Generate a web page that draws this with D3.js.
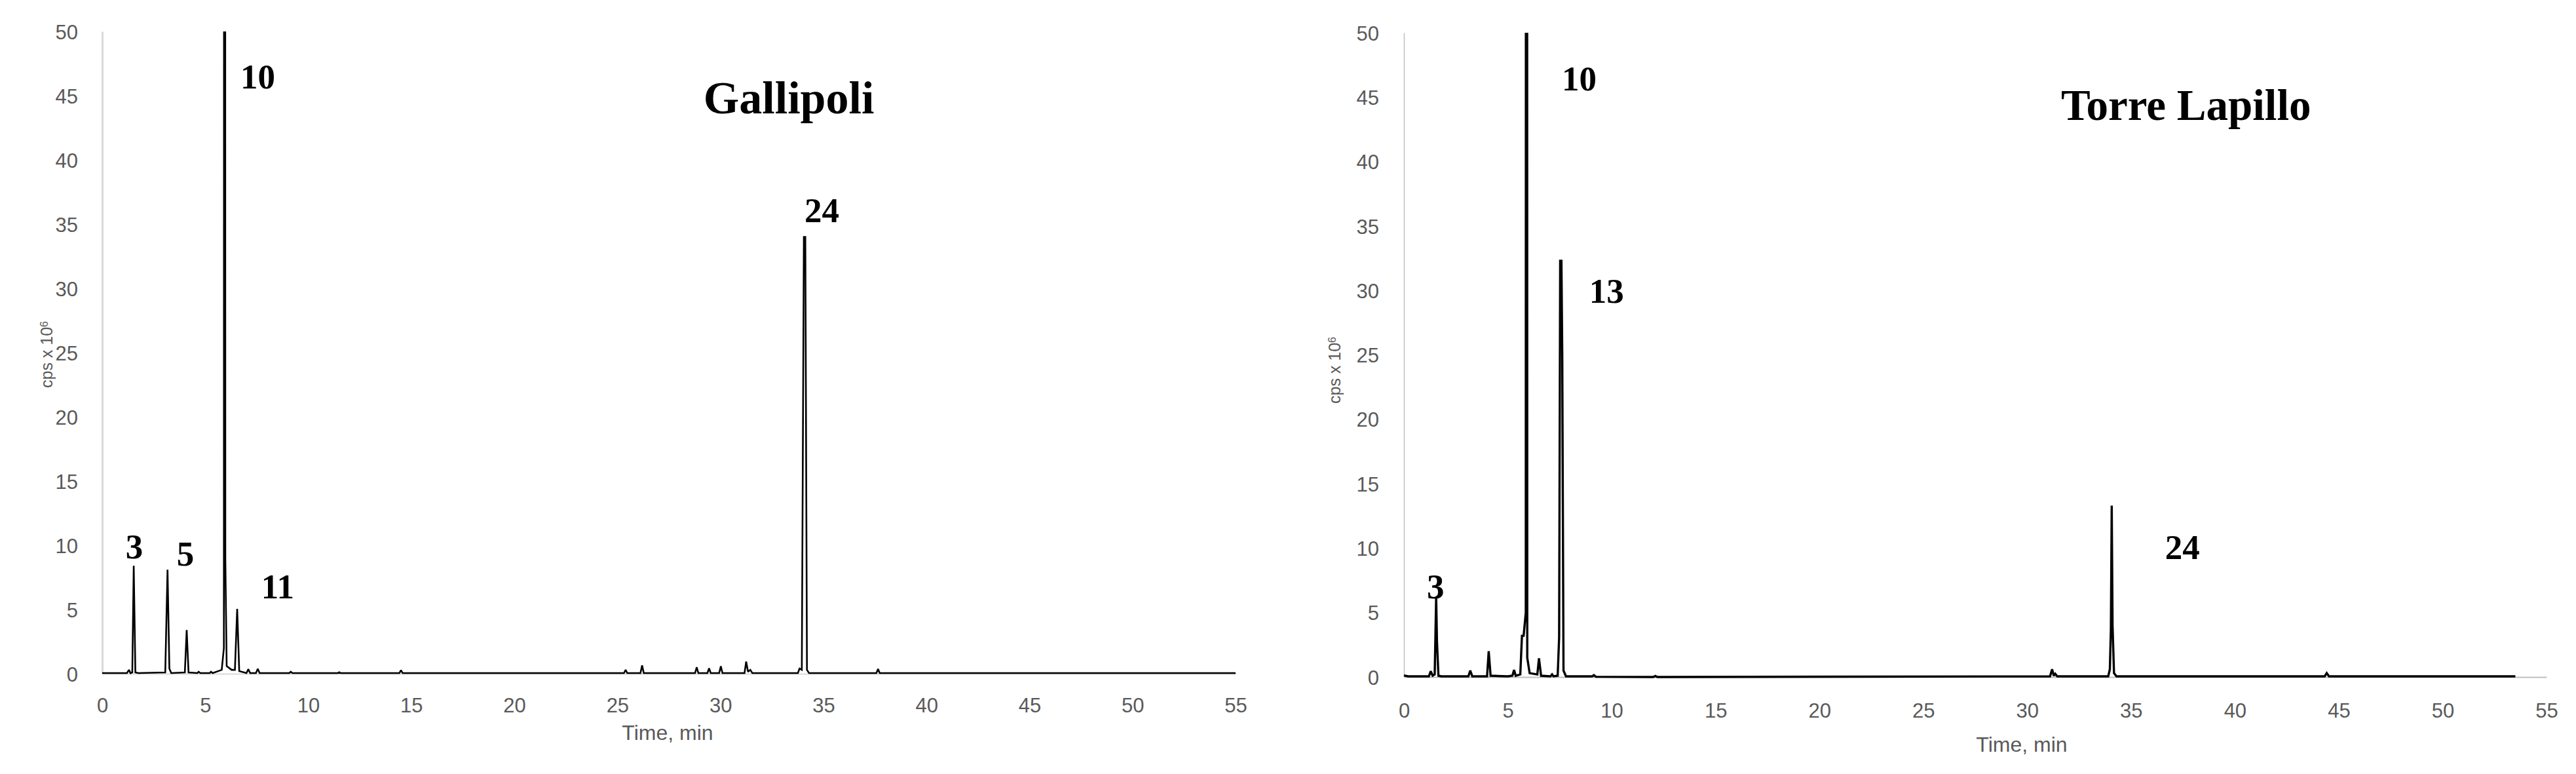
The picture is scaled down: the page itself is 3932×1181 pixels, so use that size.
<!DOCTYPE html>
<html>
<head>
<meta charset="utf-8">
<script src="https://cdn.jsdelivr.net/npm/d3@7"></script>
<style>
  html, body { margin: 0; padding: 0; background: #fff; }
  svg { display: block; }
</style>
</head>
<body>
<svg id="chart" width="3932" height="1181"></svg>
<script>
// ---------------- DATA ----------------
const xTicks = [0, 5, 10, 15, 20, 25, 30, 35, 40, 45, 50, 55];
const yTicks = [0, 5, 10, 15, 20, 25, 30, 35, 40, 45, 50];
const panelTitles = ["Gallipoli", "Torre Lapillo"];
const xAxisTitle = "Time, min";
const yAxisTitle = "cps x 10";
const yAxisTitleSup = "6";

// Gallipoli trace: [time (min), intensity (cps x 10^6)]
const gallipoliTrace = [
  [0, 0.05], [1.2, 0.05], [1.3, 0.3], [1.37, 0.05], [1.46, 0.1], [1.53, 8.4], [1.61, 0.1], [1.75, 0.05],
  [3.06, 0.1], [3.17, 8.1], [3.26, 0.4], [3.35, 0.05], [4.01, 0.1], [4.1, 3.4], [4.19, 0.1],
  [4.62, 0.05], [4.68, 0.15], [4.76, 0.05], [5.22, 0.05], [5.28, 0.15], [5.36, 0.05], [5.8, 0.3],
  [5.905, 2], [5.91, 56], [5.97, 56], [5.975, 9], [6.04, 0.6], [6.28, 0.3], [6.44, 0.3], [6.55, 5.05],
  [6.65, 0.2], [7.0, 0.05], [7.09, 0.35], [7.18, 0.05], [7.46, 0.05], [7.55, 0.38], [7.64, 0.05],
  [9.08, 0.05], [9.15, 0.15], [9.23, 0.05], [11.43, 0.05], [11.5, 0.12], [11.58, 0.05],
  [14.42, 0.05], [14.5, 0.28], [14.58, 0.05], [25.32, 0.05], [25.4, 0.3], [25.48, 0.05],
  [26.12, 0.05], [26.2, 0.65], [26.28, 0.05], [28.77, 0.05], [28.85, 0.5], [28.93, 0.05],
  [29.37, 0.05], [29.45, 0.42], [29.53, 0.05], [29.94, 0.05], [30.02, 0.58], [30.1, 0.05],
  [31.17, 0.05], [31.25, 0.95], [31.34, 0.15], [31.45, 0.3], [31.55, 0.05], [33.76, 0.05],
  [33.84, 0.4], [33.95, 0.3], [34.05, 34], [34.12, 34], [34.2, 0.3], [34.3, 0.05],
  [37.57, 0.05], [37.65, 0.37], [37.73, 0.05], [55, 0.05]
];

// Torre Lapillo trace: [time (min), intensity (cps x 10^6)]
const lapilloTrace = [
  [0, 0.12], [0.2, 0.05], [1.2, 0.05], [1.29, 0.45], [1.38, 0.1], [1.48, 0.2], [1.55, 6.2],
  [1.59, 2.7], [1.66, 0.1], [1.8, 0.05], [3.1, 0.05], [3.19, 0.5], [3.29, 0.05], [4.0, 0.05],
  [4.08, 2.0], [4.17, 0.1], [5.0, 0.05], [5.22, 0.1], [5.3, 0.55], [5.38, 0.1], [5.6, 0.2],
  [5.68, 3.2], [5.76, 3.2], [5.865, 5], [5.87, 56], [5.93, 56], [5.935, 1.5], [6.05, 0.3],
  [6.42, 0.2], [6.5, 1.45], [6.6, 0.1], [7.05, 0.05], [7.13, 0.2], [7.2, 0.05], [7.4, 0.1],
  [7.47, 3.1], [7.52, 32.3], [7.58, 32.3], [7.62, 25], [7.68, 0.5], [7.8, 0.05], [9.06, 0.05], [9.14, 0.15],
  [9.24, 0.02], [12.0, 0.0], [12.1, 0.08], [12.2, 0.0], [31.1, 0.05], [31.2, 0.6],
  [31.28, 0.1], [31.35, 0.25], [31.45, 0.05], [33.9, 0.05], [33.98, 0.6], [34.03, 3.7],
  [34.07, 13.3], [34.11, 4], [34.18, 0.3], [34.3, 0.05], [44.32, 0.05], [44.42, 0.3],
  [44.53, 0.05], [53.5, 0.05]
];

// Peak number labels: anchor = [time, intensity] of label's left baseline
const gallipoliLabels = [
  { text: "10", t: 6.71, v: 45.56 },
  { text: "24", t: 34.08, v: 35.15 },
  { text: "3", t: 1.14, v: 8.98 },
  { text: "5", t: 3.62, v: 8.42 },
  { text: "11", t: 7.72, v: 5.87 }
];
const lapilloLabels = [
  { text: "10", t: 7.6, v: 45.52 },
  { text: "13", t: 8.92, v: 29.04 },
  { text: "3", t: 1.1, v: 6.1 },
  { text: "24", t: 36.64, v: 9.16 }
];
const titleAnchors = [
  { t: 29.18, v: 43.62 },
  { t: 31.63, v: 43.24 }
];

// ---------------- DRAWING ----------------
const svg = d3.select("#chart");

const panels = [
  { trace: gallipoliTrace, labels: gallipoliLabels, title: panelTitles[0], titleAnchor: titleAnchors[0],
    x0: 156, x1: 1886, y0: 1028, y1: 48, stroke: 2.6, yAxisColor: "#d9d9d9", yAxisWidth: 3,
    tickY: 1087, yTickX: 119, xTitleX: 1019, xTitleY: 1129, yTitleX: 80, yTitleY: 541,
    clipId: "clipG", showXDomain: false, titleSize: 70 },
  { trace: lapilloTrace, labels: lapilloLabels, title: panelTitles[1], titleAnchor: titleAnchors[1],
    x0: 2143, x1: 3887, y0: 1033, y1: 50, stroke: 3.4, yAxisColor: "#bfbfbf", yAxisWidth: 1.5,
    tickY: 1095, yTickX: 2105, xTitleX: 3086, xTitleY: 1147, yTitleX: 2046, yTitleY: 565,
    clipId: "clipT", showXDomain: true, titleSize: 67 }
];

const defs = svg.append("defs");

panels.forEach(p => {
  const x = d3.scaleLinear().domain([0, 55]).range([p.x0, p.x1]);
  const y = d3.scaleLinear().domain([0, 50]).range([p.y0, p.y1]);

  defs.append("clipPath").attr("id", p.clipId)
    .append("rect")
    .attr("x", p.x0 - 5).attr("y", y(50))
    .attr("width", p.x1 - p.x0 + 10).attr("height", y(0) - y(50) + 10);

  const g = svg.append("g");

  // y axis
  const yAxis = d3.axisLeft(y).tickValues(yTicks).tickSize(0).tickPadding(0);
  const gy = g.append("g").attr("transform", `translate(${p.x0},0)`).call(yAxis);
  gy.select(".domain").attr("stroke", p.yAxisColor).attr("stroke-width", p.yAxisWidth);
  gy.selectAll(".tick text")
    .attr("x", p.yTickX - p.x0)
    .attr("dy", "0.36em")
    .attr("fill", "#595959")
    .style("font-family", "'Liberation Sans', Arial, sans-serif")
    .style("font-size", "31px");

  // x axis
  const xAxis = d3.axisBottom(x).tickValues(xTicks).tickSize(0).tickPadding(0);
  const gx = g.append("g").attr("transform", `translate(0,${p.y0})`).call(xAxis);
  gx.select(".domain").attr("stroke", p.showXDomain ? "#bfbfbf" : "#d9d9d9").attr("stroke-width", 2);
  gx.selectAll(".tick text")
    .attr("y", p.tickY - p.y0)
    .attr("dy", 0)
    .attr("fill", "#595959")
    .style("font-family", "'Liberation Sans', Arial, sans-serif")
    .style("font-size", "31px");

  // axis titles
  g.append("text")
    .attr("x", p.xTitleX)
    .attr("y", p.xTitleY)
    .attr("text-anchor", "middle")
    .attr("fill", "#595959")
    .style("font-family", "'Liberation Sans', Arial, sans-serif")
    .style("font-size", "32px")
    .text(xAxisTitle);

  const yt = g.append("text")
    .attr("transform", `translate(${p.yTitleX},${p.yTitleY}) rotate(-90)`)
    .attr("text-anchor", "middle")
    .attr("fill", "#595959")
    .style("font-family", "'Liberation Sans', Arial, sans-serif")
    .style("font-size", "25px");
  yt.append("tspan").text(yAxisTitle);
  yt.append("tspan").attr("dy", "-0.45em").style("font-size", "16px").text(yAxisTitleSup);

  // trace
  const line = d3.line().x(d => x(d[0])).y(d => y(d[1]));
  g.append("path")
    .datum(p.trace)
    .attr("clip-path", `url(#${p.clipId})`)
    .attr("d", line)
    .attr("fill", "none")
    .attr("stroke", "#000")
    .attr("stroke-width", p.stroke)
    .attr("stroke-linejoin", "miter")
    .attr("stroke-miterlimit", 2);

  // peak labels
  g.selectAll("text.peak")
    .data(p.labels)
    .join("text")
    .attr("class", "peak")
    .attr("x", d => x(d.t))
    .attr("y", d => y(d.v))
    .attr("fill", "#000")
    .style("font-family", "'Liberation Serif', 'Times New Roman', serif")
    .style("font-weight", "bold")
    .style("font-size", "53px")
    .text(d => d.text);

  // panel title
  g.append("text")
    .attr("x", x(p.titleAnchor.t))
    .attr("y", y(p.titleAnchor.v))
    .attr("fill", "#000")
    .style("font-family", "'Liberation Serif', 'Times New Roman', serif")
    .style("font-weight", "bold")
    .style("font-size", p.titleSize + "px")
    .text(p.title);
});
</script>
</body>
</html>
